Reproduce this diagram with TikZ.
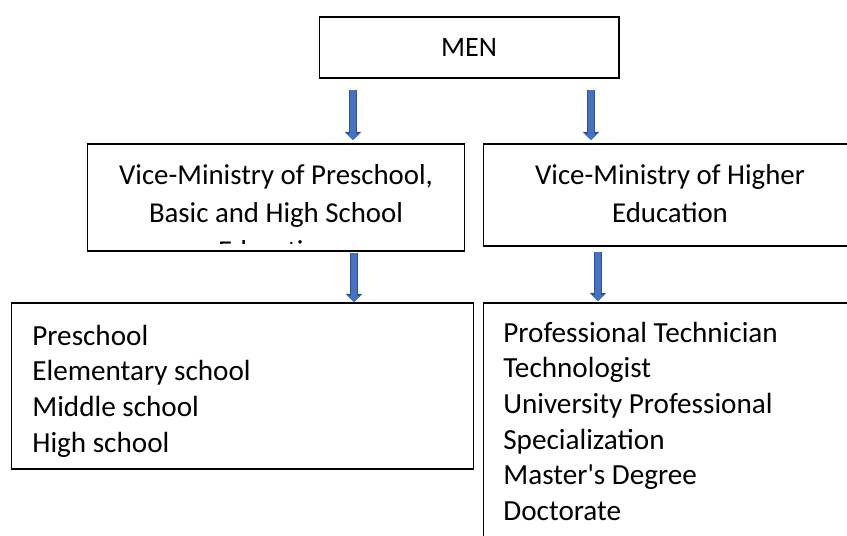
\documentclass[tikz,border=0pt]{standalone}
\usepackage{fontspec}
\setmainfont{Carlito}
\usetikzlibrary{arrows.meta}
\definecolor{arrowfill}{HTML}{4472C4}
\definecolor{arrowedge}{HTML}{2F528F}

\begin{document}
\begin{tikzpicture}[x=0.02cm,y=-0.02cm,
  every node/.style={font=\fontsize{16.4pt}{21.6pt}\selectfont},
  box/.style={draw=black,line width=0.6pt,inner sep=0pt},
  boxtext/.style={anchor=north,align=center,inner sep=0pt},
  listtext/.style={anchor=north west,align=left,inner sep=0pt,
    font=\fontsize{16.6pt}{20.3pt}\selectfont},
  flowarrow/.style={draw=arrowfill,line width=3.2pt,-{Triangle[width=7pt,length=3.4pt]},
    preaction={draw=arrowedge,line width=4.6pt,-{Triangle[width=9.1pt,length=4.6pt]}}}]

\useasboundingbox (0,0) rectangle (847,536);

% Boxes of the three levels.
\node[box,minimum width=6cm,minimum height=1.22cm,font=\fontsize{16pt}{20pt}\selectfont] (men) at (469,47.5) {MEN};
\node[box,minimum width=7.56cm,minimum height=2.14cm] (basic) at (276,197.5) {};
\node[box,minimum width=7.4cm,minimum height=2.04cm] (higher) at (668,195) {};
\node[box,minimum width=9.26cm,minimum height=3.32cm] (basiclist) at (242.5,386) {};
\node[box,minimum width=7.54cm,minimum height=4.84cm] (higherlist) at (671.5,424) {};

% Text of the left box runs over its bottom edge.
\begin{scope}
\clip (87,144) rectangle (465,244);
\node[boxtext] (basictext) at (276,164.5)
  {Vice-Ministry of Preschool,\\Basic and High School\\Education};
\end{scope}
\node[boxtext] (highertext) at (670,164.5) {Vice-Ministry of Higher\\Education};

\node[listtext] (basicitems) at (32,324.5)
  {Preschool\\Elementary school\\Middle school\\High school};
\node[listtext] (higheritems) at (503,321.5)
  {Professional Technician\\Technologist\\University Professional\\Specialization\\Master\textquotesingle s Degree\\Doctorate};

% Arrows between the levels.
\coordinate (menleft) at (353,90);
\coordinate (basictop) at (353,140);
\coordinate (menright) at (591,90);
\coordinate (highertop) at (591,140);
\coordinate (basicbottom) at (354,253);
\coordinate (basiclisttop) at (354,302);
\coordinate (higherbottom) at (598,252);
\coordinate (higherlisttop) at (598,301);

\draw[flowarrow] (menleft) -- (basictop);
\draw[flowarrow] (menright) -- (highertop);
\draw[flowarrow] (basicbottom) -- (basiclisttop);
\draw[flowarrow] (higherbottom) -- (higherlisttop);

\end{tikzpicture}
\end{document}
